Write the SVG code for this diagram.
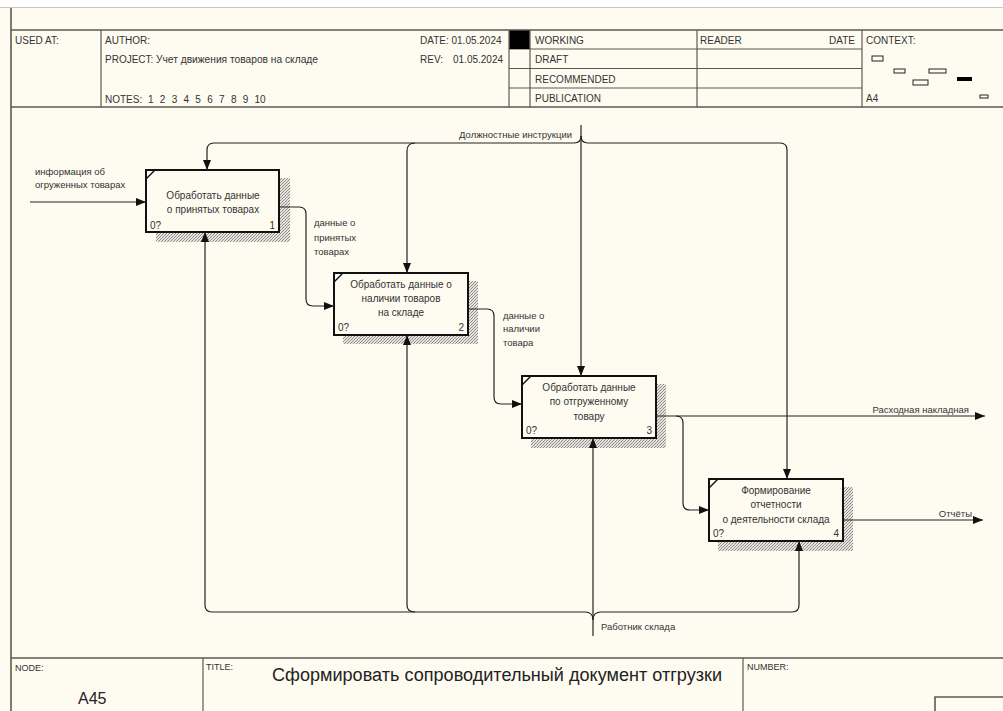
<svg xmlns="http://www.w3.org/2000/svg" width="1003" height="711" viewBox="0 0 1003 711">
  <defs>
    <style>
      .frame { fill: none; stroke: #5a5a52; stroke-width: 1.6; }
      .grid { fill: none; stroke: #5a5a52; stroke-width: 1.2; }
      .hdr { font-family: "Liberation Sans", Arial, sans-serif; font-size: 10px; fill: #333; }
      .hdrs { font-family: "Liberation Sans", Arial, sans-serif; font-size: 9px; fill: #333; }
      .box { fill: #fefcf1; stroke: #111; stroke-width: 2; }
      .shadow { fill: url(#hatch); }
      .btxt { font-family: "Liberation Sans", Arial, sans-serif; font-size: 10px; fill: #333; text-anchor: middle; }
      .num { font-family: "Liberation Sans", Arial, sans-serif; font-size: 10px; fill: #333; }
      .lbl { font-family: "Liberation Sans", Arial, sans-serif; font-size: 9.5px; fill: #333; }
      .arc { fill: none; stroke: #222; stroke-width: 1.2; }
      .ctx { fill: #fefcf1; stroke: #222; stroke-width: 1; }
    </style>
    <pattern id="hatch" width="3" height="3" patternUnits="userSpaceOnUse">
      <rect width="3" height="3" fill="#e6e4da"/>
      <rect width="1" height="1" fill="#888"/>
      <rect x="2" y="1" width="1" height="1" fill="#999"/>
      <rect x="1" y="2" width="1" height="1" fill="#8c8c8c"/>
    </pattern>
    <marker id="arr" viewBox="0 0 10 8" refX="10" refY="4" markerWidth="10" markerHeight="8" markerUnits="userSpaceOnUse" orient="auto">
      <path d="M0,0 L10,4 L0,8 Z" fill="#111"/>
    </marker>
  </defs>

  <!-- sheet background -->
  <rect width="1003" height="711" fill="#fefcf1"/>
  <rect width="1003" height="7" fill="#ffffff"/>
  <line x1="0" y1="7.5" x2="1003" y2="7.5" stroke="#c8c8c0" stroke-width="1"/>

  <!-- outer frame -->
  <line class="frame" x1="11" y1="8" x2="11" y2="711"/>

  <!-- header table -->
  <g id="header">
    <line class="frame" x1="11" y1="30" x2="1003" y2="30"/>
    <line class="frame" x1="11" y1="107" x2="1003" y2="107"/>
    <line class="grid" x1="101" y1="30" x2="101" y2="107"/>
    <line class="grid" x1="509" y1="30" x2="509" y2="107"/>
    <line class="grid" x1="530" y1="30" x2="530" y2="107"/>
    <line class="grid" x1="697" y1="30" x2="697" y2="107"/>
    <line class="grid" x1="862" y1="30" x2="862" y2="107"/>
    <line class="grid" x1="509" y1="49" x2="862" y2="49"/>
    <line class="grid" x1="509" y1="68.5" x2="862" y2="68.5"/>
    <line class="grid" x1="509" y1="88" x2="862" y2="88"/>
    <rect x="509.5" y="30.5" width="20" height="18.5" fill="#000"/>

    <text class="hdr" x="15" y="44">USED AT:</text>
    <text class="hdr" x="105" y="44">AUTHOR:</text>
    <text class="hdr" x="105" y="63">PROJECT:</text>
    <text class="hdr" x="156" y="63" font-size="9.6" textLength="162" lengthAdjust="spacingAndGlyphs">Учет движения товаров на складе</text>
    <text class="hdr" x="105" y="103">NOTES:</text>
    <text class="hdr" x="148" y="103" word-spacing="3.5">1 2 3 4 5 6 7 8 9 10</text>
    <text class="hdr" x="420" y="44">DATE: 01.05.2024</text>
    <text class="hdr" x="420" y="63">REV:</text>
    <text class="hdr" x="453" y="63">01.05.2024</text>

    <text class="hdr" x="535" y="44">WORKING</text>
    <text class="hdr" x="535" y="63">DRAFT</text>
    <text class="hdr" x="535" y="83">RECOMMENDED</text>
    <text class="hdr" x="535" y="102">PUBLICATION</text>
    <text class="hdr" x="700" y="44">READER</text>
    <text class="hdr" x="855" y="44" text-anchor="end">DATE</text>
    <text class="hdr" x="866" y="44">CONTEXT:</text>
    <text class="hdr" x="866" y="102">A4</text>

    <!-- context thumbnail -->
    <rect class="ctx" x="872" y="56" width="11" height="5"/>
    <rect class="ctx" x="894" y="69" width="11" height="4"/>
    <rect class="ctx" x="929" y="69" width="17" height="4"/>
    <rect class="ctx" x="913" y="80" width="15" height="5"/>
    <rect x="957" y="77" width="15" height="4" fill="#000"/>
    <rect class="ctx" x="980" y="95" width="8" height="3"/>
  </g>

  <!-- footer -->
  <g id="footer">
    <line class="frame" x1="11" y1="658" x2="1003" y2="658"/>
    <line class="grid" x1="203" y1="658" x2="203" y2="711"/>
    <line class="grid" x1="743" y1="658" x2="743" y2="711"/>
    <polyline class="frame" points="935,711 935,697 1003,697"/>
    <text class="hdrs" x="15" y="671">NODE:</text>
    <text font-family="'Liberation Sans', Arial, sans-serif" font-size="16" fill="#222" x="78" y="704">A45</text>
    <text class="hdrs" x="206" y="670">TITLE:</text>
    <text font-family="'Liberation Sans', Arial, sans-serif" font-size="18" fill="#222" x="272" y="681" textLength="450" lengthAdjust="spacingAndGlyphs">Сформировать сопроводительный документ отгрузки</text>
    <text class="hdrs" x="747" y="670">NUMBER:</text>
  </g>

  <!-- activity boxes -->
  <g id="A1">
    <rect class="shadow" x="156" y="178" width="134" height="64"/>
    <rect class="box" x="146" y="170" width="133" height="62"/>
    <line x1="146" y1="179" x2="155" y2="170" stroke="#111" stroke-width="1.5"/>
    <text class="btxt" x="213" y="199">Обработать данные</text>
    <text class="btxt" x="213" y="213">о принятых товарах</text>
    <text class="num" x="150" y="229">0?</text>
    <text class="num" x="275" y="229" text-anchor="end">1</text>
  </g>

  <g id="A2">
    <rect class="shadow" x="343" y="281" width="135" height="63"/>
    <rect class="box" x="334" y="273" width="134" height="62"/>
    <line x1="334" y1="282" x2="343" y2="273" stroke="#111" stroke-width="1.5"/>
    <text class="btxt" x="401" y="288">Обработать данные о</text>
    <text class="btxt" x="401" y="302">наличии товаров</text>
    <text class="btxt" x="401" y="316">на складе</text>
    <text class="num" x="338" y="331">0?</text>
    <text class="num" x="464" y="331" text-anchor="end">2</text>
  </g>

  <g id="A3">
    <rect class="shadow" x="531" y="384" width="135" height="64"/>
    <rect class="box" x="522" y="376" width="134" height="62"/>
    <line x1="522" y1="385" x2="531" y2="376" stroke="#111" stroke-width="1.5"/>
    <text class="btxt" x="589" y="391">Обработать данные</text>
    <text class="btxt" x="589" y="405">по отгруженному</text>
    <text class="btxt" x="589" y="420">товару</text>
    <text class="num" x="526" y="434">0?</text>
    <text class="num" x="652" y="434" text-anchor="end">3</text>
  </g>

  <g id="A4">
    <rect class="shadow" x="718" y="487" width="135" height="64"/>
    <rect class="box" x="709" y="479" width="134" height="62"/>
    <line x1="709" y1="488" x2="718" y2="479" stroke="#111" stroke-width="1.5"/>
    <text class="btxt" x="776" y="494">Формирование</text>
    <text class="btxt" x="776" y="508">отчетности</text>
    <text class="btxt" x="776" y="523">о деятельности склада</text>
    <text class="num" x="713" y="537">0?</text>
    <text class="num" x="839" y="537" text-anchor="end">4</text>
  </g>

  <!-- connectors -->
  <g id="connectors">
    <!-- input to A1 -->
    <path class="arc" d="M30,202 H146" marker-end="url(#arr)"/>
    <text class="lbl" x="35" y="175">информация об</text>
    <text class="lbl" x="35" y="188">огруженных товарах</text>

    <!-- A1 -> A2 -->
    <path class="arc" d="M280,207 H299 Q306,207 306,214 V299 Q306,306 313,306 H334" marker-end="url(#arr)"/>
    <text class="lbl" x="314" y="226">данные о</text>
    <text class="lbl" x="314" y="241">принятых</text>
    <text class="lbl" x="314" y="255">товарах</text>

    <!-- A2 -> A3 -->
    <path class="arc" d="M469,309 H487 Q494,309 494,316 V397 Q494,404 501,404 H522" marker-end="url(#arr)"/>
    <text class="lbl" x="503" y="319">данные о</text>
    <text class="lbl" x="503" y="332">наличии</text>
    <text class="lbl" x="503" y="346">товара</text>

    <!-- A3 output -->
    <path class="arc" d="M657,416 H985" marker-end="url(#arr)"/>
    <text class="lbl" x="969" y="413" text-anchor="end">Расходная накладная</text>
    <!-- A3 -> A4 -->
    <path class="arc" d="M676,416 Q683,416 683,423 V503 Q683,510 690,510 H709" marker-end="url(#arr)"/>

    <!-- A4 output -->
    <path class="arc" d="M844,520 H983" marker-end="url(#arr)"/>
    <text class="lbl" x="972" y="517" text-anchor="end">Отчёты</text>

    <!-- control: Должностные инструкции -->
    <path class="arc" d="M581,125 V376" marker-end="url(#arr)"/>
    <path class="arc" d="M581,136 Q581,143 574,143 H214 Q207,143 207,150 V170" marker-end="url(#arr)"/>
    <path class="arc" d="M415,143 Q407,143 407,151 V273" marker-end="url(#arr)"/>
    <path class="arc" d="M581,136 Q581,143 588,143 H780 Q787,143 787,150 V479" marker-end="url(#arr)"/>
    <text class="lbl" x="572" y="138" text-anchor="end">Должностные инструкции</text>

    <!-- mechanism: Работник склада -->
    <path class="arc" d="M593,636 V438" marker-end="url(#arr)"/>
    <path class="arc" d="M593,620 Q593,612 585,612 H212 Q205,612 205,605 V232" marker-end="url(#arr)"/>
    <path class="arc" d="M415,612 Q407,612 407,605 V335" marker-end="url(#arr)"/>
    <path class="arc" d="M593,620 Q593,612 601,612 H792 Q799,612 799,605 V541" marker-end="url(#arr)"/>
    <text class="lbl" x="601" y="630">Работник склада</text>
  </g>
</svg>
